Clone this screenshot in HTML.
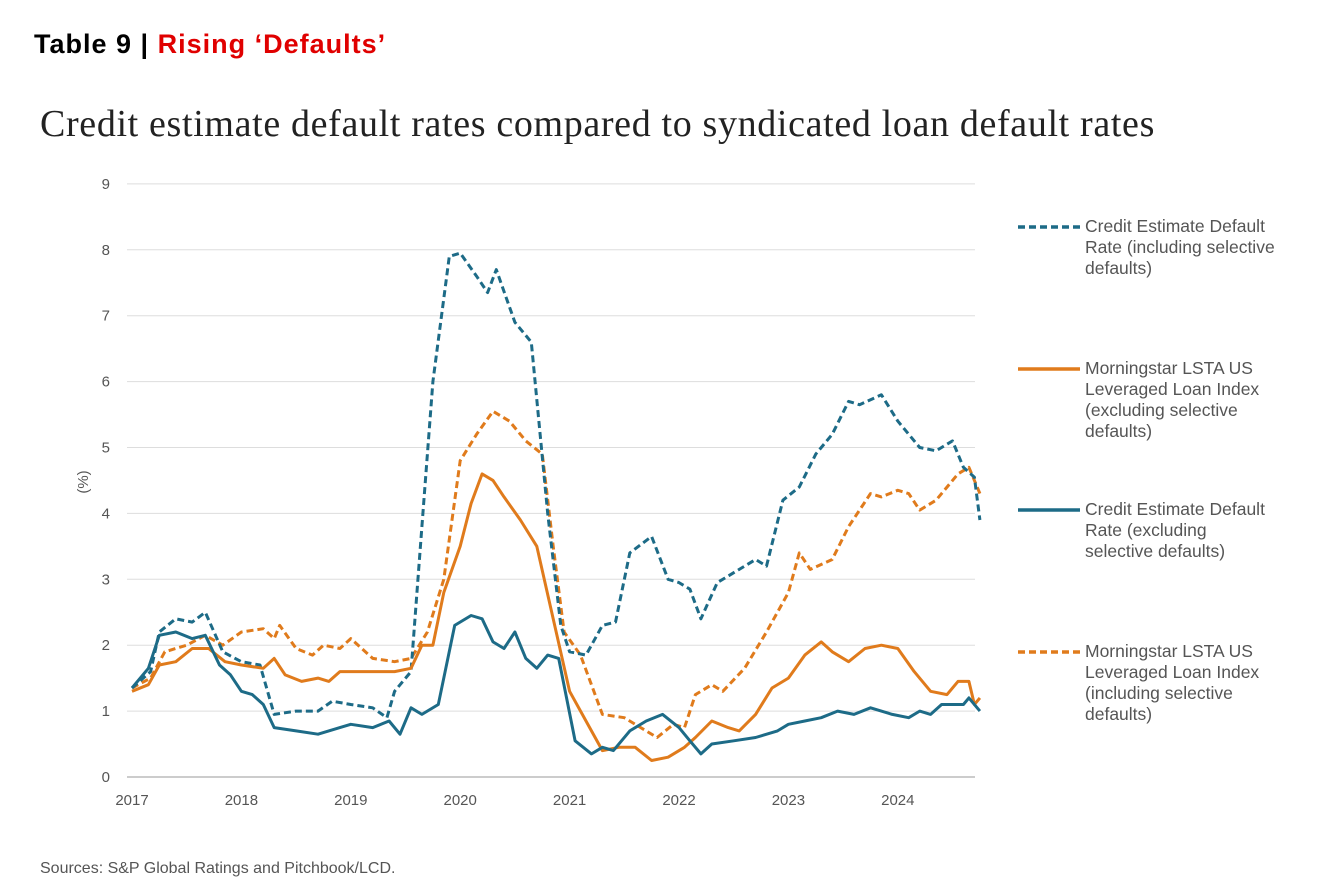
<!DOCTYPE html>
<html><head><meta charset="utf-8"><style>
body{margin:0;background:#fff;width:1338px;height:896px;overflow:hidden;font-family:"Liberation Sans",sans-serif}
#hdr{position:absolute;left:34px;top:29px;font-size:27px;letter-spacing:1px;font-weight:bold;color:#000}
#hdr span{color:#e00000}
#title{position:absolute;left:40px;top:102px;font-family:"Liberation Serif",serif;font-size:38px;letter-spacing:0.65px;color:#222;white-space:nowrap}
#src{position:absolute;left:40px;top:860px;font-size:16px;color:#555}
.leg{position:absolute;left:1085px;font-size:17.5px;line-height:21px;color:#555}
</style></head><body>
<div id="hdr">Table 9 | <span>Rising ‘Defaults’</span></div>
<div id="title">Credit estimate default rates compared to syndicated loan default rates</div>
<svg id="chart" width="1338" height="896" style="position:absolute;left:0;top:0"></svg>
<div class="leg" style="top:216px">Credit Estimate Default<br>Rate (including selective<br>defaults)</div>
<div class="leg" style="top:358px">Morningstar LSTA US<br>Leveraged Loan Index<br>(excluding selective<br>defaults)</div>
<div class="leg" style="top:499px">Credit Estimate Default<br>Rate (excluding<br>selective defaults)</div>
<div class="leg" style="top:641px">Morningstar LSTA US<br>Leveraged Loan Index<br>(including selective<br>defaults)</div>
<div id="src">Sources: S&amp;P Global Ratings and Pitchbook/LCD.</div>
<script>
const yTicks=[0,1,2,3,4,5,6,7,8,9];
const xTicks=[2017,2018,2019,2020,2021,2022,2023,2024];
const ceInclX=[2017,2017.17,2017.25,2017.4,2017.55,2017.67,2017.83,2018,2018.17,2018.3,2018.5,2018.7,2018.83,2019,2019.2,2019.33,2019.4,2019.55,2019.65,2019.75,2019.9,2020,2020.15,2020.25,2020.33,2020.5,2020.65,2020.8,2020.92,2021,2021.15,2021.3,2021.42,2021.55,2021.75,2021.9,2022,2022.1,2022.2,2022.35,2022.5,2022.7,2022.8,2022.95,2023.1,2023.25,2023.4,2023.55,2023.65,2023.85,2024,2024.2,2024.35,2024.5,2024.6,2024.7,2024.75];
const ceInclY=[1.35,1.6,2.2,2.4,2.35,2.5,1.9,1.75,1.7,0.95,1.0,1.0,1.15,1.1,1.05,0.9,1.3,1.6,3.8,6.0,7.9,7.95,7.6,7.35,7.7,6.9,6.6,4.0,2.3,1.9,1.85,2.3,2.35,3.4,3.65,3.0,2.95,2.85,2.4,2.95,3.1,3.3,3.2,4.2,4.4,4.9,5.2,5.7,5.65,5.8,5.4,5.0,4.95,5.1,4.7,4.55,3.9];
const lstaInclX=[2017,2017.17,2017.3,2017.5,2017.67,2017.83,2018,2018.2,2018.3,2018.35,2018.5,2018.65,2018.75,2018.9,2019,2019.2,2019.4,2019.55,2019.7,2019.85,2020,2020.15,2020.3,2020.45,2020.6,2020.75,2020.85,2020.95,2021.1,2021.3,2021.5,2021.65,2021.8,2021.95,2022.05,2022.15,2022.3,2022.4,2022.6,2022.8,2023,2023.1,2023.2,2023.4,2023.55,2023.75,2023.85,2024,2024.1,2024.2,2024.35,2024.55,2024.65,2024.7,2024.75];
const lstaInclY=[1.35,1.5,1.9,2.0,2.15,2.0,2.2,2.25,2.1,2.3,1.95,1.85,2.0,1.95,2.1,1.8,1.75,1.8,2.2,3.0,4.8,5.2,5.55,5.4,5.1,4.9,3.5,2.2,1.85,0.95,0.9,0.75,0.6,0.8,0.75,1.25,1.4,1.3,1.65,2.2,2.8,3.4,3.15,3.3,3.8,4.3,4.25,4.35,4.3,4.05,4.2,4.6,4.7,4.5,4.3];
const lstaExclX=[2017,2017.15,2017.25,2017.4,2017.55,2017.7,2017.85,2018,2018.2,2018.3,2018.4,2018.55,2018.7,2018.8,2018.9,2019,2019.2,2019.4,2019.55,2019.65,2019.75,2019.85,2020,2020.1,2020.2,2020.3,2020.4,2020.55,2020.7,2020.85,2021,2021.15,2021.3,2021.45,2021.6,2021.75,2021.9,2022.05,2022.15,2022.3,2022.45,2022.55,2022.7,2022.85,2023,2023.15,2023.3,2023.4,2023.55,2023.7,2023.85,2024,2024.15,2024.3,2024.45,2024.55,2024.65,2024.7,2024.75];
const lstaExclY=[1.3,1.4,1.7,1.75,1.95,1.95,1.75,1.7,1.65,1.8,1.55,1.45,1.5,1.45,1.6,1.6,1.6,1.6,1.65,2.0,2.0,2.8,3.5,4.15,4.6,4.5,4.25,3.9,3.5,2.4,1.3,0.85,0.4,0.45,0.45,0.25,0.3,0.45,0.6,0.85,0.75,0.7,0.95,1.35,1.5,1.85,2.05,1.9,1.75,1.95,2.0,1.95,1.6,1.3,1.25,1.45,1.45,1.1,1.2];
const ceExclX=[2017,2017.15,2017.25,2017.4,2017.55,2017.67,2017.8,2017.9,2018,2018.1,2018.2,2018.3,2018.5,2018.7,2018.9,2019,2019.2,2019.35,2019.45,2019.55,2019.65,2019.8,2019.95,2020.1,2020.2,2020.3,2020.4,2020.5,2020.6,2020.7,2020.8,2020.9,2021.05,2021.2,2021.3,2021.4,2021.55,2021.7,2021.85,2022,2022.1,2022.2,2022.3,2022.5,2022.7,2022.9,2023,2023.15,2023.3,2023.45,2023.6,2023.75,2023.95,2024.1,2024.2,2024.3,2024.4,2024.6,2024.65,2024.75];
const ceExclY=[1.35,1.65,2.15,2.2,2.1,2.15,1.7,1.55,1.3,1.25,1.1,0.75,0.7,0.65,0.75,0.8,0.75,0.85,0.65,1.05,0.95,1.1,2.3,2.45,2.4,2.05,1.95,2.2,1.8,1.65,1.85,1.8,0.55,0.35,0.45,0.4,0.7,0.85,0.95,0.75,0.55,0.35,0.5,0.55,0.6,0.7,0.8,0.85,0.9,1.0,0.95,1.05,0.95,0.9,1.0,0.95,1.1,1.1,1.2,1.0];
const NS='http://www.w3.org/2000/svg';
const svg=document.getElementById('chart');
const L=127,R=975;
const xs=v=>132+(v-2017)*109.4;
const ys=v=>777-v*65.9;
function mk(t,a){const e=document.createElementNS(NS,t);for(const k in a)e.setAttribute(k,a[k]);svg.appendChild(e);return e;}
yTicks.forEach(t=>{
  const g=mk('line',{x1:L,x2:R,y1:ys(t),y2:ys(t),stroke:t===0?'#999':'#ddd','stroke-width':1});
  
  
  const tx=mk('text',{x:110,y:ys(t)+5,'font-size':15,fill:'#555','text-anchor':'end','font-family':'Liberation Sans, sans-serif'});
  tx.textContent=t;
  
  
});
xTicks.forEach(t=>{
  const tx=mk('text',{x:xs(t),y:805,'font-size':15,fill:'#555','text-anchor':'middle','font-family':'Liberation Sans, sans-serif'});
  tx.textContent=t;
  
  
});
const yt=mk('text',{x:88,y:482,'font-size':15,fill:'#555','text-anchor':'middle',transform:'rotate(-90 88 482)','font-family':'Liberation Sans, sans-serif'});
yt.textContent='(%)';


function series(X,Y,col,dash,name){
  const d=X.map((x,i)=>(i?'L':'M')+xs(x).toFixed(1)+','+ys(Y[i]).toFixed(1)).join('');
  const p=mk('path',{d:d,fill:'none',stroke:col,'stroke-width':3,'stroke-dasharray':dash,'stroke-linejoin':'round'});
  
  
}
const TEAL='#1d6b87',OR='#e07b1c';
series(lstaInclX,lstaInclY,OR,'7 4','line-lsta-incl');
series(ceInclX,ceInclY,TEAL,'7 4','line-ce-incl');
series(lstaExclX,lstaExclY,OR,'','line-lsta-excl');
series(ceExclX,ceExclY,TEAL,'','line-ce-excl');
[[227,TEAL,'7 4'],[369,OR,''],[510,TEAL,''],[652,OR,'7 4']].forEach((l,i)=>{
  const e=mk('line',{x1:1018,x2:1080,y1:l[0],y2:l[0],stroke:l[1],'stroke-width':3.5,'stroke-dasharray':l[2]});
  
  
});
</script>
</body></html>
